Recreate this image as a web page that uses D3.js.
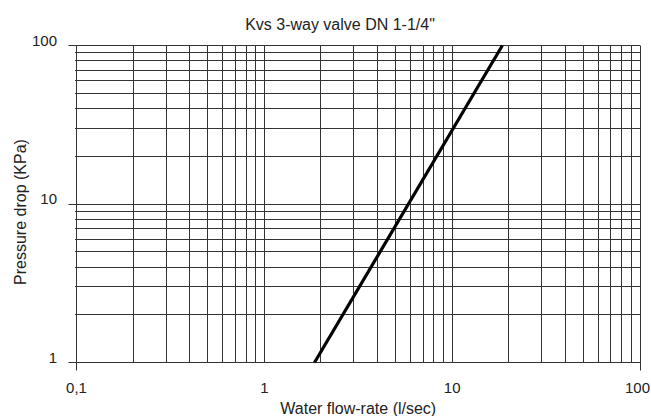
<!DOCTYPE html>
<html>
<head>
<meta charset="utf-8">
<script src="https://cdn.jsdelivr.net/npm/d3@7"></script>
<style>
    body { margin: 0; background: #fff; }
    text { font-family: "Liberation Sans", Arial, sans-serif; fill: #222; }
</style>
</head>
<body>
<div id="chart"></div>
<script>
// chart data
let title = 'Kvs 3-way valve DN 1-1/4"';
let xLabel = "Water flow-rate (l/sec)";
let yLabel = "Pressure drop (KPa)";
let xDomain = [0.1, 100];
let yDomain = [1, 100];
let xTickValues = [0.1, 1, 10, 100];
let xTickLabels = ["0,1", "1", "10", "100"];
let yTickValues = [1, 10, 100];
let yTickLabels = ["1", "10", "100"];
// valve curve (flow l/s, pressure drop kPa)
let curveFlow = [1.85, 18.5];
let curveDrop = [1, 100];

let margin = {top: 45.5, right: 11, bottom: 53.5, left: 76.5};
let width = 651 - margin.left - margin.right;
let height = 416 - margin.top - margin.bottom;

let svg = d3.select("#chart").append("svg")
    .attr("width", 651)
    .attr("height", 416);

let g = svg.append("g")
    .attr("transform", `translate(${margin.left}, ${margin.top})`);

let x = d3.scaleLog().domain(xDomain).range([0, width]);
let y = d3.scaleLog().domain(yDomain).range([height, 0]);

// all grid values per decade (1..9 x 10^n)
function gridValues(domain) {
    let vals = [];
    for (let p = Math.log10(domain[0]); p < Math.log10(domain[1]); p++) {
        for (let m = 1; m < 10; m++) vals.push(m * Math.pow(10, p));
    }
    vals.push(domain[1]);
    return vals;
}
let xGrid = gridValues(xDomain);
let yGrid = gridValues(yDomain);
let isMajor = v => Math.abs(Math.log10(v) - Math.round(Math.log10(v))) < 1e-9;

// vertical grid
g.append("g").selectAll("line")
    .data(xGrid)
    .enter().append("line")
    .attr("x1", d => Math.round(x(d)))
    .attr("x2", d => Math.round(x(d)))
    .attr("y1", 0)
    .attr("y2", d => (d === xDomain[0] || d === xDomain[1]) ? height + 8 : height)
    .attr("stroke", "#333")
    .attr("stroke-width", 1);

// horizontal grid
g.append("g").selectAll("line")
    .data(yGrid)
    .enter().append("line")
    .attr("x1", d => isMajor(d) ? -8 : -1.5)
    .attr("x2", width)
    .attr("y1", d => Math.round(y(d)))
    .attr("y2", d => Math.round(y(d)))
    .attr("stroke", "#333")
    .attr("stroke-width", 1);

// tick labels (last one kept inside the page)
g.append("g").selectAll("text")
    .data(xTickValues)
    .enter().append("text")
    .attr("x", (d, i) => i === xTickValues.length - 1 ? x(d) + 10 : x(d))
    .attr("y", height + 30)
    .attr("text-anchor", (d, i) => i === xTickValues.length - 1 ? "end" : "middle")
    .attr("font-size", "15px")
    .text((d, i) => xTickLabels[i]);

g.append("g").selectAll("text")
    .data(yTickValues)
    .enter().append("text")
    .attr("x", -19.5)
    .attr("y", d => y(d))
    .attr("text-anchor", "end")
    .attr("font-size", "15px")
    .text((d, i) => yTickLabels[i]);

// valve curve
let line = d3.line()
    .x(d => x(d[0]))
    .y(d => y(d[1]));

g.append("path")
    .datum(curveFlow.map((f, i) => [f, curveDrop[i]]))
    .attr("d", line)
    .attr("fill", "none")
    .attr("stroke", "#000")
    .attr("stroke-width", 3.2);

// titles
svg.append("text")
    .attr("x", 340)
    .attr("y", 30)
    .attr("text-anchor", "middle")
    .attr("font-size", "16px")
    .text(title);

svg.append("text")
    .attr("x", margin.left + width / 2)
    .attr("y", 414)
    .attr("text-anchor", "middle")
    .attr("font-size", "16px")
    .text(xLabel);

svg.append("text")
    .attr("transform", `translate(26, ${margin.top + height / 2 + 8}) rotate(-90)`)
    .attr("text-anchor", "middle")
    .attr("font-size", "16px")
    .text(yLabel);
</script>
</body>
</html>
